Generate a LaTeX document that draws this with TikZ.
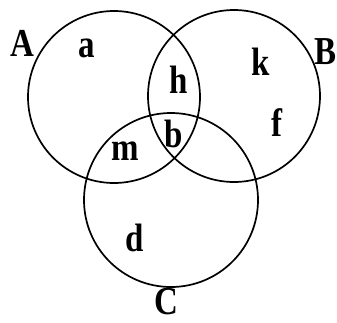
\documentclass[tikz,border=0pt]{standalone}
\usepackage{fontspec}
\setmainfont{Liberation Serif}
\newcommand{\tallsym}[1]{\scalebox{1}[1.2]{#1}}
\begin{document}
\begin{tikzpicture}[x=1pt,y=-1pt,
  setline/.style={draw=black,line width=1.7pt},
  lbl/.style={font=\fontsize{33}{33}\selectfont\bfseries,inner sep=0pt}]
\useasboundingbox (0,0) rectangle (337,322);
\draw[setline] (114,97) circle[radius=86];
\draw[setline] (234,96) circle[radius=86];
\draw[setline] (171,200) circle[radius=87];
\node[lbl] (A) at (22,43) {\tallsym{A}};
\node[lbl] (B) at (326,52) {\tallsym{B}};
\node[lbl] (C) at (166,302) {\tallsym{C}};
\node[lbl] (a) at (87,48) {\tallsym{a}};
\node[lbl] (h) at (179,80) {\tallsym{h}};
\node[lbl] (k) at (261,62) {\tallsym{k}};
\node[lbl] (f) at (277,123) {\tallsym{f}};
\node[lbl] (b) at (174,134) {\tallsym{b}};
\node[lbl] (m) at (125,151) {\tallsym{m}};
\node[lbl] (d) at (135,238) {\tallsym{d}};
\end{tikzpicture}
\end{document}
